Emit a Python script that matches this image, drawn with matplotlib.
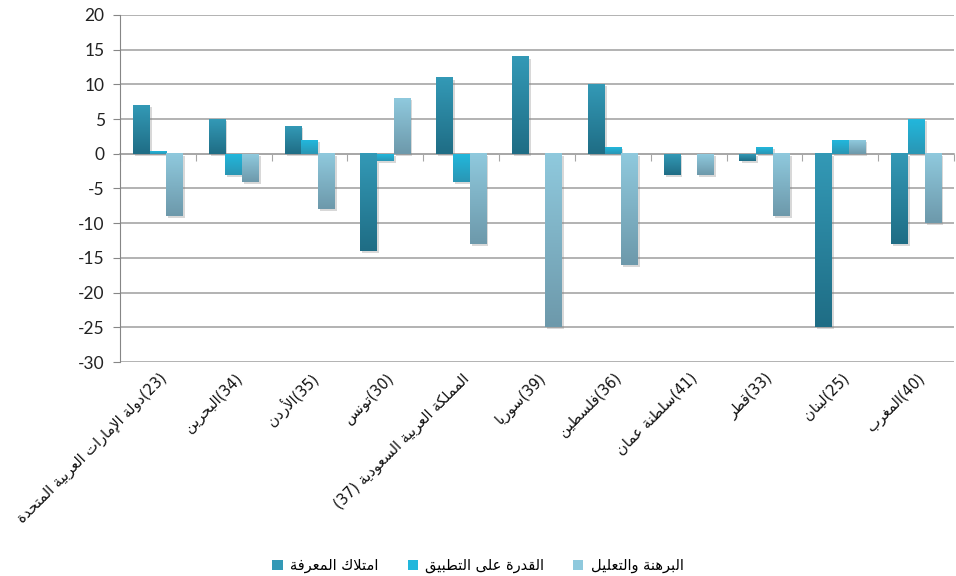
import re
import numpy as np
import matplotlib
matplotlib.use('Agg')
import matplotlib.pyplot as plt
import matplotlib.transforms as mtransforms
import matplotlib.patheffects as pe
from matplotlib.colors import LinearSegmentedColormap
from matplotlib.patches import Patch

# data
countries = ['(23)دولة الإمارات العربية المتحدة', '(34)البحرين', '(35)الأردن', '(30)تونس',
             'المملكة العربية السعودية (37)', '(39)سوريا', '(36)فلسطين', '(41)سلطنة عمان',
             '(33)قطر', '(25)لبنان', '(40)المغرب']
series_names = ['امتلاك المعرفة', 'القدرة على التطبيق', 'البرهنة والتعليل']
knowledge = [7, 5, 4, -14, 11, 14, 10, -3, -1, -25, -13]
applying = [0.3, -3, 2, -1, -4, 0, 1, 0, 1, 2, 5]
reasoning = [-9, -4, -8, 8, -13, -25, -16, -3, -9, 2, -10]

# gradient colours (top, bottom) for each series
grads = [('#3399b6', '#1f6d85'), ('#22b7dc', '#2a96b4'), ('#8fc9dd', '#6d99ab')]

# --- tiny arabic shaper: presentation forms + visual order ---
FORMS = {
    '\u0621': (0xFE80, 1), '\u0622': (0xFE81, 2), '\u0623': (0xFE83, 2), '\u0624': (0xFE85, 2),
    '\u0625': (0xFE87, 2), '\u0626': (0xFE89, 4), '\u0627': (0xFE8D, 2), '\u0628': (0xFE8F, 4),
    '\u0629': (0xFE93, 2), '\u062A': (0xFE95, 4), '\u062B': (0xFE99, 4), '\u062C': (0xFE9D, 4),
    '\u062D': (0xFEA1, 4), '\u062E': (0xFEA5, 4), '\u062F': (0xFEA9, 2), '\u0630': (0xFEAB, 2),
    '\u0631': (0xFEAD, 2), '\u0632': (0xFEAF, 2), '\u0633': (0xFEB1, 4), '\u0634': (0xFEB5, 4),
    '\u0635': (0xFEB9, 4), '\u0636': (0xFEBD, 4), '\u0637': (0xFEC1, 4), '\u0638': (0xFEC5, 4),
    '\u0639': (0xFEC9, 4), '\u063A': (0xFECD, 4), '\u0641': (0xFED1, 4), '\u0642': (0xFED5, 4),
    '\u0643': (0xFED9, 4), '\u0644': (0xFEDD, 4), '\u0645': (0xFEE1, 4), '\u0646': (0xFEE5, 4),
    '\u0647': (0xFEE9, 4), '\u0648': (0xFEED, 2), '\u0649': (0xFEEF, 2), '\u064A': (0xFEF1, 4),
}
LAM_ALEF = {'\u0622': 0xFEF5, '\u0623': 0xFEF7, '\u0625': 0xFEF9, '\u0627': 0xFEFB}


def shape(text):
    out = []
    prev_joins = False
    i = 0
    while i < len(text):
        c = text[i]
        if c not in FORMS:
            out.append(c)
            prev_joins = False
            i += 1
            continue
        if c == '\u0644' and i + 1 < len(text) and text[i + 1] in LAM_ALEF:
            out.append(chr(LAM_ALEF[text[i + 1]] + (1 if prev_joins else 0)))
            prev_joins = False
            i += 2
            continue
        start, nf = FORMS[c]
        nxt = text[i + 1] if i + 1 < len(text) else ''
        joins_next = nf == 4 and nxt in FORMS and FORMS[nxt][1] > 1
        if prev_joins and joins_next:
            f = 3
        elif prev_joins:
            f = 1 if nf > 1 else 0
        elif joins_next:
            f = 2
        else:
            f = 0
        out.append(chr(start + f))
        prev_joins = joins_next
        i += 1
    return ''.join(reversed(out))


def visual(s):
    parts = [p for p in re.split(r'(\(\d+\))', s) if p]
    return ''.join(p if p.startswith('(') else shape(p) for p in reversed(parts))


plt.rcParams['font.family'] = ['Lato', 'DejaVu Sans']
plt.rcParams['axes.unicode_minus'] = False

fig = plt.figure(figsize=(9.56, 5.76), dpi=100)
ax = fig.add_axes([0.1255, 0.3715, 0.8725, 0.6025])

x = np.arange(len(countries))
w = 0.22
ylo, yhi = -30, 20

for k, vals in enumerate([knowledge, applying, reasoning]):
    top, bot = grads[k]
    cmap = LinearSegmentedColormap.from_list('g%d' % k, [bot, top])
    bars = ax.bar(x + (k - 1) * w, vals, w, color=top, zorder=3,
                  path_effects=[pe.SimplePatchShadow(offset=(1.5, -1.5), shadow_rgbFace='#7f7f7f', alpha=0.3),
                                pe.Normal()])
    for b in bars:
        x0, y0 = b.get_x(), b.get_y()
        bw, bh = b.get_width(), b.get_height()
        if bh == 0:
            continue
        y1, y2 = min(y0, y0 + bh), max(y0, y0 + bh)
        ax.imshow(np.linspace(0, 1, 64).reshape(-1, 1), cmap=cmap, origin='lower',
                  extent=[x0, x0 + bw, y1, y2], aspect='auto', zorder=4, interpolation='bilinear')

ax.set_xlim(-0.5, len(countries) - 0.5)
ax.set_ylim(ylo, yhi)

ax.set_yticks(np.arange(ylo, yhi + 1, 5))
ax.yaxis.grid(True, color='#a6a6a6', lw=1.2, zorder=0)
ax.set_axisbelow(True)
ax.tick_params(axis='y', length=5, color='#868686', labelsize=12.5, labelcolor='#222222', pad=6)
for side in ['top', 'right']:
    ax.spines[side].set_visible(False)
ax.spines['left'].set_color('#868686')
ax.spines['bottom'].set_position(('data', 0))
ax.spines['bottom'].set_color('#a6a6a6')
ax.spines['bottom'].set_linewidth(1.2)
ax.spines['bottom'].set_zorder(2)
ax.set_xticks(np.arange(-0.5, len(countries) - 0.4, 1))
ax.tick_params(axis='x', length=5, color='#a6a6a6', labelbottom=False)

trans = mtransforms.blended_transform_factory(ax.transData, ax.transAxes)
for i, name in enumerate(countries):
    ax.text(i + 0.08, -0.04, visual(name), transform=trans, rotation=45,
            rotation_mode='anchor', ha='right', va='center', fontsize=10.5,
            family='DejaVu Sans', color='#111111')

handles = [Patch(facecolor=grads[k][0], edgecolor='none') for k in range(3)]
fig.legend(handles, [shape(s) for s in series_names], loc='center', bbox_to_anchor=(0.5, 0.018),
           ncol=3, frameon=False, prop={'family': 'DejaVu Sans', 'size': 10.5},
           handlelength=0.7, handleheight=0.7, handletextpad=0.5, columnspacing=2.0)

fig.savefig('out.png', dpi=100)
